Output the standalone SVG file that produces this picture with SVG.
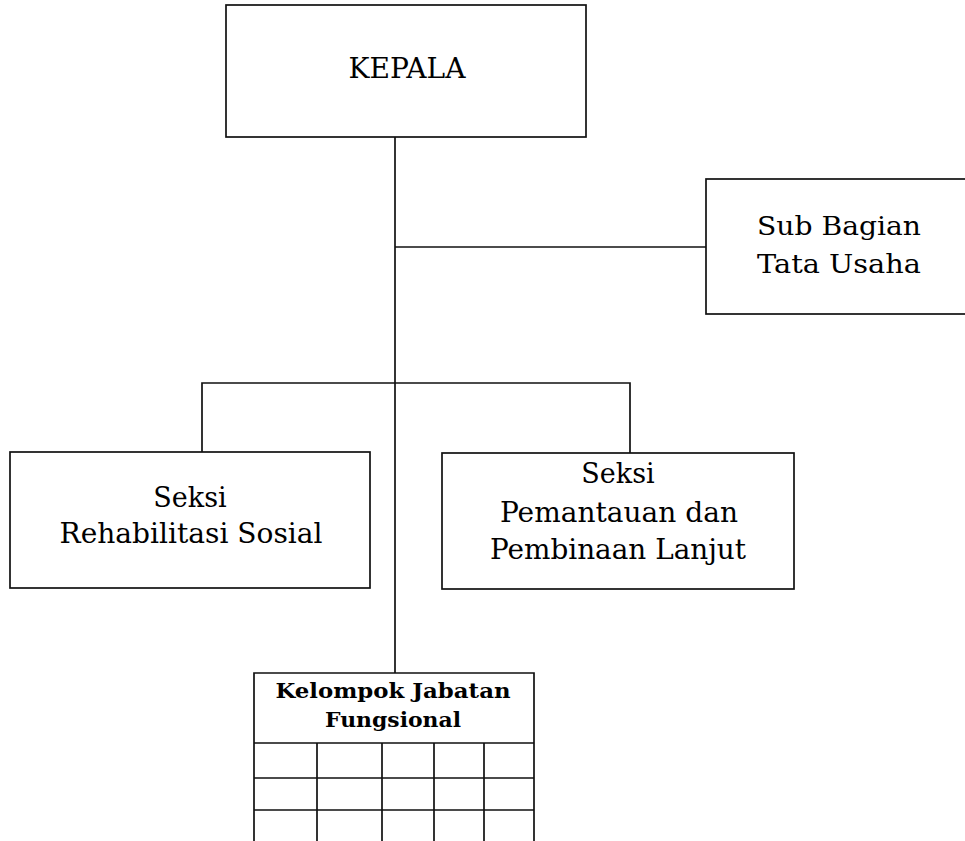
<svg xmlns="http://www.w3.org/2000/svg" width="965" height="841" viewBox="0 0 965 841">
<style>
.box{fill:#fff;stroke:#111;stroke-width:1.7}
.ln{fill:none;stroke:#111;stroke-width:1.7}
.t{font-family:"DejaVu Serif","Liberation Serif",serif;fill:#000;text-anchor:middle}
.b{font-family:"DejaVu Serif","Liberation Serif",serif;fill:#000;text-anchor:middle;font-weight:bold}
</style>
<rect width="965" height="841" fill="#fff"/>
<g id="connectors">
<path class="ln" d="M395 137 V673"/>
<path class="ln" d="M395 247 H706"/>
<path class="ln" d="M202 452 V383 H630 V453"/>
</g>
<g id="kepala">
<rect class="box" x="226" y="5" width="360" height="132"/>
<text class="t" x="407" y="78" font-size="28" textLength="117" lengthAdjust="spacingAndGlyphs">KEPALA</text>
</g>
<g id="subbagian">
<rect class="box" x="706" y="179" width="270" height="135"/>
<text class="t" x="839" y="235" font-size="26" textLength="164" lengthAdjust="spacingAndGlyphs">Sub Bagian</text>
<text class="t" x="839" y="273" font-size="26" textLength="164" lengthAdjust="spacingAndGlyphs">Tata Usaha</text>
</g>
<g id="rehabilitasi">
<rect class="box" x="10" y="452" width="360" height="136"/>
<text class="t" x="190" y="507" font-size="27">Seksi</text>
<text class="t" x="191" y="543" font-size="27" textLength="263" lengthAdjust="spacingAndGlyphs">Rehabilitasi Sosial</text>
</g>
<g id="pemantauan">
<rect class="box" x="442" y="453" width="352" height="136"/>
<text class="t" x="618" y="483" font-size="27">Seksi</text>
<text class="t" x="619" y="522" font-size="27" textLength="238" lengthAdjust="spacingAndGlyphs">Pemantauan dan</text>
<text class="t" x="618" y="559" font-size="27" textLength="256" lengthAdjust="spacingAndGlyphs">Pembinaan Lanjut</text>
</g>
<g id="fungsional">
<path class="ln" d="M254 845 V673 H534 V845"/>
<path class="ln" d="M254 743 H534 M254 778 H534 M254 810 H534"/>
<path class="ln" d="M317 743 V845 M382 743 V845 M434 743 V845 M484 743 V845"/>
<text class="b" x="393" y="698" font-size="20" textLength="235" lengthAdjust="spacingAndGlyphs">Kelompok Jabatan</text>
<text class="b" x="393" y="727" font-size="20" textLength="136" lengthAdjust="spacingAndGlyphs">Fungsional</text>
</g>
</svg>
